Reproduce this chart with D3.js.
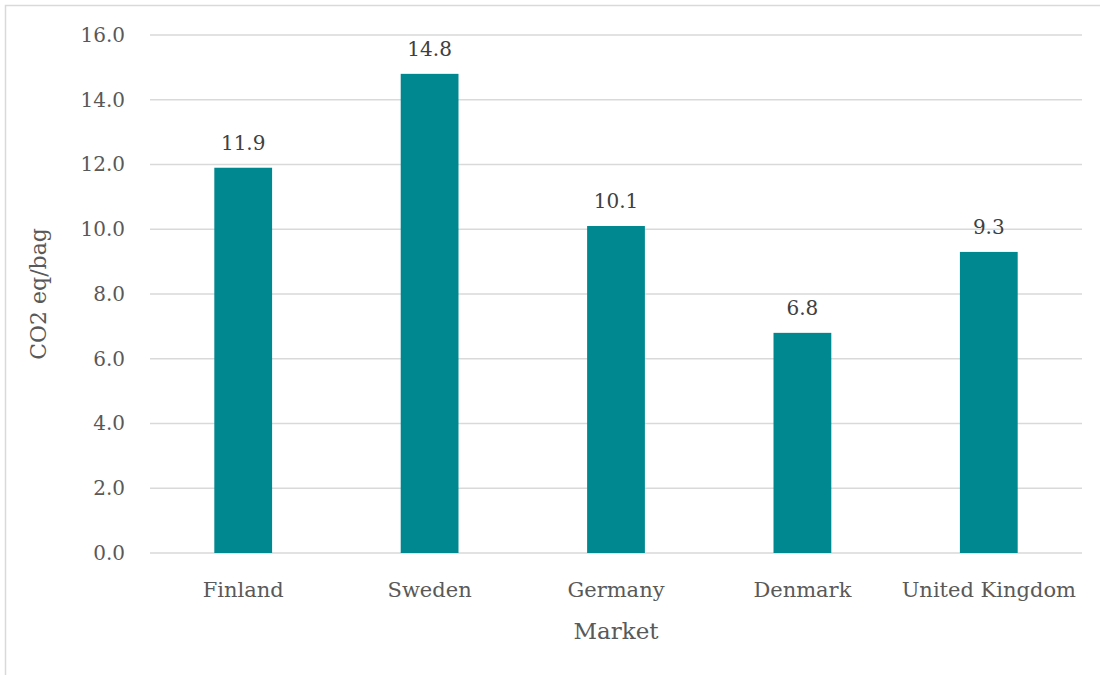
<!DOCTYPE html>
<html>
<head>
<meta charset="utf-8">
<script src="https://cdn.jsdelivr.net/npm/d3@7"></script>
<style>
  body { margin: 0; background: #fff; }
  svg { font-family: "DejaVu Serif", "Liberation Serif", serif; }
</style>
</head>
<body>
<svg id="chart" width="1100" height="675"></svg>
<script>
const markets = ["Finland", "Sweden", "Germany", "Denmark", "United Kingdom"];
const co2PerBag = [11.9, 14.8, 10.1, 6.8, 9.3];
const yTicks = [0, 2, 4, 6, 8, 10, 12, 14, 16];

const svg = d3.select("#chart");
const margin = { top: 35, right: 18, bottom: 122, left: 150 };
const width = 1100 - margin.left - margin.right;
const height = 675 - margin.top - margin.bottom;

// outer frame
svg.append("rect")
  .attr("x", 5.5).attr("y", 5.5)
  .attr("width", 1100).attr("height", 675)
  .attr("fill", "none")
  .attr("stroke", "#d9d9d9")
  .attr("stroke-width", 1.5);

const g = svg.append("g").attr("transform", `translate(${margin.left},${margin.top})`);

const x = d3.scaleBand().domain(markets).range([0, width]).paddingInner(0.69).paddingOuter(0.345);
const y = d3.scaleLinear().domain([0, 16]).range([height, 0]);

// gridlines
g.append("g")
  .selectAll("line")
  .data(yTicks)
  .join("line")
  .attr("x1", 0).attr("x2", width)
  .attr("y1", d => y(d)).attr("y2", d => y(d))
  .attr("stroke", "#d9d9d9")
  .attr("stroke-width", 1.3);

// y axis
const yAxis = g.append("g")
  .call(d3.axisLeft(y).tickValues(yTicks).tickFormat(d3.format(".1f")).tickSize(0).tickPadding(25));
yAxis.select(".domain").remove();
yAxis.selectAll("text")
  .attr("font-family", "DejaVu Serif, serif")
  .attr("font-size", 20)
  .attr("fill", "#595959");

// x axis
const xAxis = g.append("g")
  .attr("transform", `translate(0,${height})`)
  .call(d3.axisBottom(x).tickSize(0).tickPadding(29));
xAxis.select(".domain").remove();
xAxis.selectAll("text")
  .attr("font-family", "DejaVu Serif, serif")
  .attr("font-size", 21)
  .attr("fill", "#595959");

// bars
const data = markets.map((m, i) => ({ market: m, value: co2PerBag[i] }));
g.selectAll(".bar")
  .data(data)
  .join("rect")
  .attr("class", "bar")
  .attr("x", d => x(d.market))
  .attr("width", x.bandwidth())
  .attr("y", d => y(d.value))
  .attr("height", d => y(0) - y(d.value))
  .attr("fill", "#008891");

// value labels
g.selectAll(".label")
  .data(data)
  .join("text")
  .attr("class", "label")
  .attr("x", d => x(d.market) + x.bandwidth() / 2)
  .attr("y", d => y(d.value) - 18)
  .attr("text-anchor", "middle")
  .attr("font-size", 20)
  .attr("fill", "#404040")
  .text(d => d3.format(".1f")(d.value));

// axis titles
svg.append("text")
  .attr("transform", `translate(${40},${margin.top + height / 2}) rotate(-90)`)
  .attr("text-anchor", "middle")
  .attr("dominant-baseline", "middle")
  .attr("font-size", 22)
  .attr("fill", "#595959")
  .text("CO2 eq/bag");

svg.append("text")
  .attr("x", margin.left + width / 2)
  .attr("y", 639)
  .attr("text-anchor", "middle")
  .attr("font-size", 23)
  .attr("fill", "#595959")
  .text("Market");
</script>
</body>
</html>
